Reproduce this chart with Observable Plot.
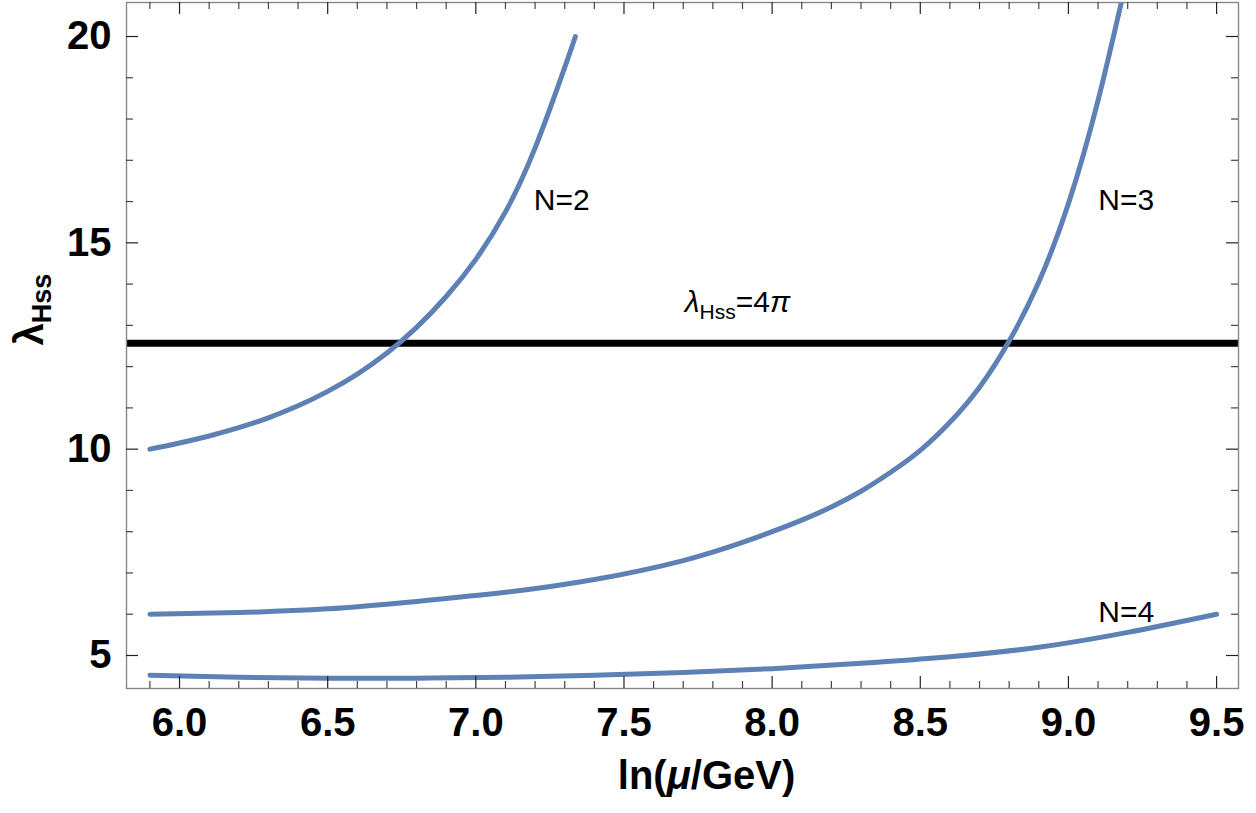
<!DOCTYPE html>
<html><head><meta charset="utf-8">
<script src="https://cdn.jsdelivr.net/npm/d3@7"></script>
<script src="https://cdn.jsdelivr.net/npm/@observablehq/plot@0.6"></script>
<style>body{margin:0;background:#fff} svg{display:block}</style>
</head><body><div id="chart"></div>
<script>
// ---- data ----
const n2X = [5.9, 6.0, 6.1, 6.2, 6.3, 6.4, 6.5, 6.6, 6.7, 6.8, 6.9, 7.0, 7.1, 7.2, 7.3, 7.336];
const n2Y = [10.0, 10.15, 10.32, 10.52, 10.76, 11.05, 11.4, 11.82, 12.33, 12.95, 13.7, 14.6, 15.75, 17.3, 19.25, 20.0];
const n3X = [5.9, 6.2, 6.5, 6.8, 7.1, 7.4, 7.7, 7.9, 8.0, 8.1, 8.2, 8.3, 8.4, 8.5, 8.6, 8.7, 8.8, 8.9, 9.0, 9.1, 9.2];
const n3Y = [6.0, 6.04, 6.13, 6.31, 6.53, 6.84, 7.3, 7.74, 8.0, 8.28, 8.6, 8.98, 9.44, 9.97, 10.65, 11.5, 12.62, 14.05, 15.95, 18.45, 21.5];
const n4X = [5.9, 6.2, 6.5, 6.8, 7.1, 7.4, 7.7, 8.0, 8.3, 8.6, 8.9, 9.2, 9.5];
const n4Y = [4.52, 4.47, 4.45, 4.45, 4.47, 4.52, 4.59, 4.68, 4.81, 4.97, 5.2, 5.56, 6.0];
const limitValue = [4 * Math.PI];
const curveLabels = ["N=2", "N=3", "N=4"];
const curveLabelX = [7.29, 9.195, 9.195];
const curveLabelY = [16.04, 16.04, 6.04];
const limitLabel = "λHss=4π";
const limitLabelX = [7.883];
const limitLabelY = [13.55];
const xMajor = [6.0, 6.5, 7.0, 7.5, 8.0, 8.5, 9.0, 9.5];
const xMinor = [5.9, 6.1, 6.2, 6.3, 6.4, 6.6, 6.7, 6.8, 6.9, 7.1, 7.2, 7.3, 7.4, 7.6, 7.7, 7.8, 7.9,
                8.1, 8.2, 8.3, 8.4, 8.6, 8.7, 8.8, 8.9, 9.1, 9.2, 9.3, 9.4];
const yMajor = [5, 10, 15, 20];
const yMinor = [6, 7, 8, 9, 11, 12, 13, 14, 16, 17, 18, 19];
const xTitle = "ln(μ/GeV)";
const yTitle = "λHss";

// ---- build table ----
const curves = [
  ...n2X.map((x, i) => ({series: "N=2", x, y: n2Y[i]})),
  ...n3X.map((x, i) => ({series: "N=3", x, y: n3Y[i]})),
  ...n4X.map((x, i) => ({series: "N=4", x, y: n4Y[i]}))
];
const labels = curveLabels.map((t, i) => ({t, x: curveLabelX[i], y: curveLabelY[i]}));

const W = 1256, H = 813, mL = 126, mR = 18, mT = 2, mB = 125;
const pW = W - mL - mR, pH = H - mT - mB;
const blue = "#5E81B5";

const chart = Plot.plot({
  width: W, height: H,
  marginLeft: mL, marginRight: mR, marginTop: mT, marginBottom: mB,
  style: {fontFamily: "'Liberation Sans', Arial, sans-serif", background: "#fff", color: "#000"},
  x: {domain: [5.821, 9.574]},
  y: {domain: [4.2, 20.824]},
  marks: [
    Plot.ruleY(limitValue, {stroke: "#000", strokeWidth: 7}),
    Plot.line(curves, {x: "x", y: "y", z: "series", stroke: blue, strokeWidth: 5, curve: "natural", clip: true}),
    Plot.frame({stroke: "#888", strokeWidth: 1.4}),
    // inward ticks on all four sides
    Plot.ruleX(xMajor, {insetTop: pH - 12, stroke: "#222", strokeWidth: 1.2}),
    Plot.ruleX(xMinor, {insetTop: pH - 7, stroke: "#444", strokeWidth: 1.2}),
    Plot.ruleX(xMajor, {insetBottom: pH - 12, stroke: "#222", strokeWidth: 1.2}),
    Plot.ruleX(xMinor, {insetBottom: pH - 7, stroke: "#444", strokeWidth: 1.2}),
    Plot.ruleY(yMajor, {insetRight: pW - 12, stroke: "#222", strokeWidth: 1.2}),
    Plot.ruleY(yMinor, {insetRight: pW - 7, stroke: "#444", strokeWidth: 1.2}),
    Plot.ruleY(yMajor, {insetLeft: pW - 12, stroke: "#222", strokeWidth: 1.2}),
    Plot.ruleY(yMinor, {insetLeft: pW - 7, stroke: "#444", strokeWidth: 1.2}),
    Plot.axisX(xMajor, {tickSize: 0, tickPadding: 19, tickFormat: d3.format(".1f"), fontSize: 40, fontWeight: "bold", label: null}),
    Plot.axisY(yMajor, {tickSize: 0, tickPadding: 15, fontSize: 40, fontWeight: "bold", label: null}),
    Plot.text([xTitle], {frameAnchor: "bottom", dy: 100, dx: 24, fontSize: 40, fontWeight: "bold", fill: "#000"}),
    Plot.text([yTitle], {frameAnchor: "left", dx: -96, rotate: -90, fontSize: 40, fontWeight: "bold", fill: "#000"}),
    Plot.text(labels, {x: "x", y: "y", text: "t", fontSize: 30, fill: "#000"}),
    Plot.text([limitLabel], {x: limitLabelX, y: limitLabelY, fontSize: 30, fill: "#000"})
  ]
});

// rich text formatting (italics, subscripts)
chart.querySelectorAll("text").forEach(t => {
  const s = t.textContent;
  if (s === yTitle) {
    t.innerHTML = '<tspan>λ</tspan><tspan font-size="27" dy="8">Hss</tspan>';
  } else if (s === limitLabel) {
    t.innerHTML = '<tspan font-style="italic">λ</tspan><tspan font-size="21" dy="7">Hss</tspan><tspan dy="-7">=4</tspan><tspan font-style="italic">π</tspan>';
  } else if (s === xTitle) {
    t.innerHTML = '<tspan>ln(</tspan><tspan font-style="italic">μ</tspan><tspan>/GeV)</tspan>';
  }
});
document.getElementById("chart").appendChild(chart);
</script>
</body></html>
